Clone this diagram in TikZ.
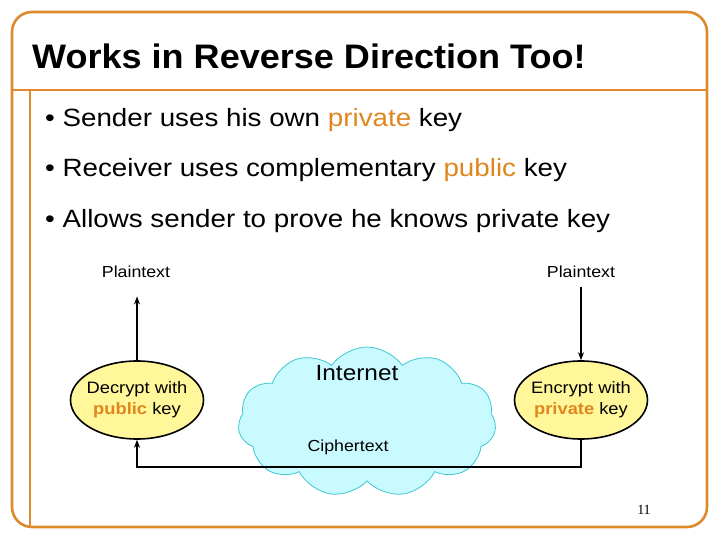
\documentclass[tikz,border=0pt]{standalone}
\usepackage{fontspec}
\setmainfont[FakeStretch=1.11]{Liberation Sans}
\newfontfamily\titlefont[FakeStretch=1.06]{Liberation Sans}
\newfontfamily\serifnum{Liberation Serif}
\usetikzlibrary{shapes.geometric,shapes.symbols,arrows.meta}
\definecolor{frameorange}{HTML}{DE8A2C}
\definecolor{keyorange}{HTML}{E0861E}
\definecolor{ellfill}{HTML}{FFF799}
\definecolor{cloudfill}{HTML}{C8FAFF}
\definecolor{cloudline}{HTML}{3CC8D2}
\tikzset{
  frame/.style={draw=frameorange, line width=2.6pt},
  opbox/.style={ellipse, draw=black, line width=1.6pt, fill=ellfill, minimum width=133pt, minimum height=78pt, inner xsep=-18pt, inner ysep=0pt, align=center, font=\fontsize{16.5}{21}\selectfont},
  plain/.style={font=\fontsize{16}{19}\selectfont},
  bullet/.style={anchor=base west, font=\fontsize{25}{30}\selectfont},
  conn/.style={line width=1.6pt, -{Stealth[length=8pt,width=6pt]}},
}
\begin{document}
\begin{tikzpicture}[x=1pt,y=-1pt]
\useasboundingbox (0,0) rectangle (720,540);
% frame
\draw[frame, rounded corners=20pt] (12,12) rectangle (707,527);
\draw[frame] (12,90) -- (707,90);
\draw[frame] (30,90) -- (30,527);
% title
\node[anchor=base west, inner sep=0pt, font=\titlefont\fontsize{34}{40}\selectfont\bfseries] (title) at (32,69) {Works in Reverse Direction Too!};
% bullets
\node[bullet, inner sep=0pt] (b1) at (45,127) {• Sender uses his own \textcolor{keyorange}{private} key};
\node[bullet, inner sep=0pt] (b2) at (45,177) {• Receiver uses complementary \textcolor{keyorange}{public} key};
\node[bullet, inner sep=0pt] (b3) at (45,227) {• Allows sender to prove he knows private key};
% cloud
\node[cloud, cloud puffs=11, cloud puff arc=110, aspect=1.75, draw=cloudline, line width=0.8pt, fill=cloudfill, minimum width=258pt, minimum height=150pt, inner sep=0pt] (cloud) at (367,422) {};
\node[font=\fontsize{22}{26}\selectfont] (internet) at (357,373) {Internet};
% ellipses
\node[opbox] (dec) at (137,400) {Decrypt with\\\textcolor{keyorange}{\bfseries public} key};
\node[opbox] (enc) at (581,400) {Encrypt with\\\textcolor{keyorange}{\bfseries private} key};
% plaintexts
\node[plain] (pl) at (136,272) {Plaintext};
\node[plain] (pr) at (581,272) {Plaintext};
\draw[conn] (dec.north) -- ([yshift=-15pt]dec.north |- pl.south);
\draw[conn] ([yshift=-6pt]enc.north |- pr.south) -- (enc.north);
% ciphertext path
\coordinate (cr) at (581,467);
\coordinate (cl) at (137,467);
\draw[conn] (enc.south) -- (cr) -- (cl) -- (dec.south);
\node[plain] (cipher) at (348,447) {Ciphertext};
% page number
\node[font=\serifnum\fontsize{14}{16}\selectfont] (pg) at (644,510) {11};
\end{tikzpicture}
\end{document}
